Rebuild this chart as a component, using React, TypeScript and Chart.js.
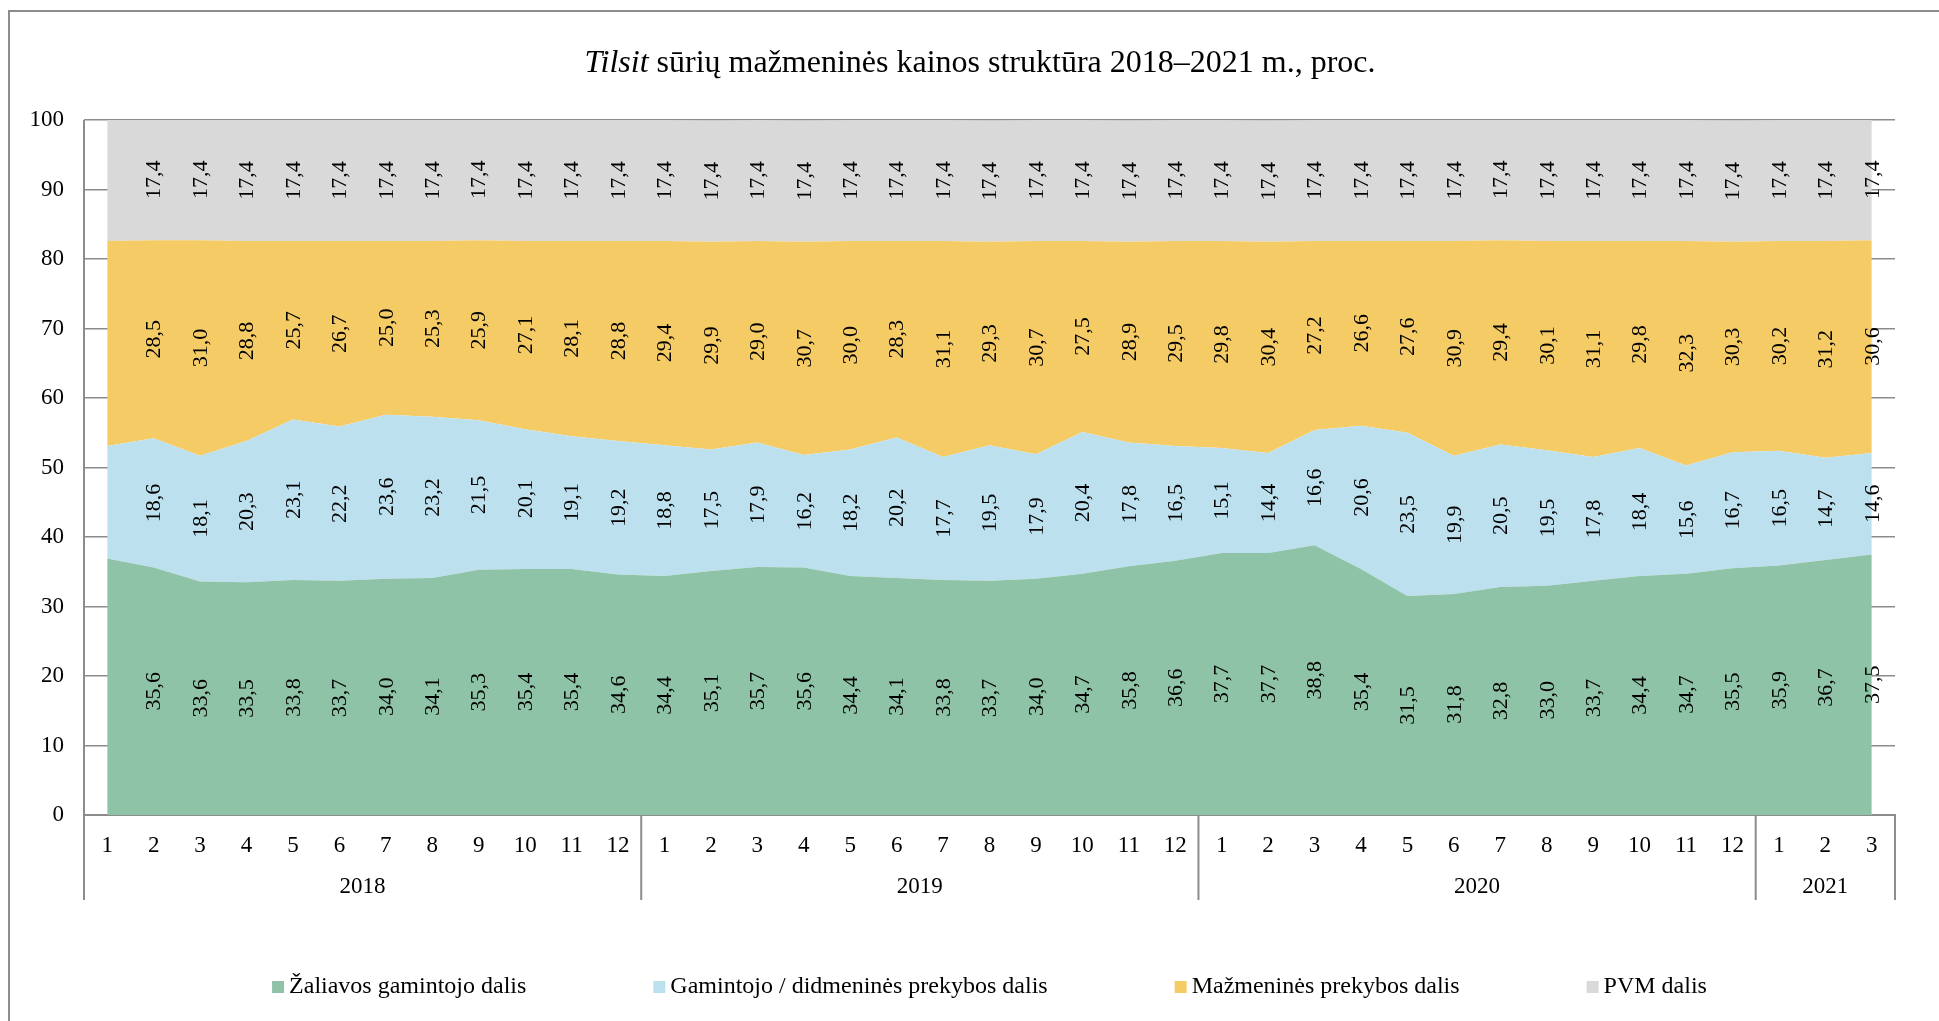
import React, { useEffect, useRef } from 'react';
import { Chart, registerables } from 'chart.js';

Chart.register(...registerables);

// ---------- data ----------
const monthLabels = [
  '1', '2', '3', '4', '5', '6', '7', '8', '9', '10', '11', '12',
  '1', '2', '3', '4', '5', '6', '7', '8', '9', '10', '11', '12',
  '1', '2', '3', '4', '5', '6', '7', '8', '9', '10', '11', '12',
  '1', '2', '3',
];
const yearLabels = ['2018', '2019', '2020', '2021'];
const monthsPerYear = [12, 12, 12, 3];

const rawMaterialShare = [
  36.9, 35.6, 33.6, 33.5, 33.8, 33.7, 34.0, 34.1, 35.3, 35.4, 35.4, 34.6,
  34.4, 35.1, 35.7, 35.6, 34.4, 34.1, 33.8, 33.7, 34.0, 34.7, 35.8, 36.6,
  37.7, 37.7, 38.8, 35.4, 31.5, 31.8, 32.8, 33.0, 33.7, 34.4, 34.7, 35.5,
  35.9, 36.7, 37.5,
];
const wholesaleShare = [
  16.2, 18.6, 18.1, 20.3, 23.1, 22.2, 23.6, 23.2, 21.5, 20.1, 19.1, 19.2,
  18.8, 17.5, 17.9, 16.2, 18.2, 20.2, 17.7, 19.5, 17.9, 20.4, 17.8, 16.5,
  15.1, 14.4, 16.6, 20.6, 23.5, 19.9, 20.5, 19.5, 17.8, 18.4, 15.6, 16.7,
  16.5, 14.7, 14.6,
];
const retailShare = [
  29.5, 28.5, 31.0, 28.8, 25.7, 26.7, 25.0, 25.3, 25.9, 27.1, 28.1, 28.8,
  29.4, 29.9, 29.0, 30.7, 30.0, 28.3, 31.1, 29.3, 30.7, 27.5, 28.9, 29.5,
  29.8, 30.4, 27.2, 26.6, 27.6, 30.9, 29.4, 30.1, 31.1, 29.8, 32.3, 30.3,
  30.2, 31.2, 30.6,
];
const vatShare = [
  17.4, 17.4, 17.4, 17.4, 17.4, 17.4, 17.4, 17.4, 17.4, 17.4, 17.4, 17.4,
  17.4, 17.4, 17.4, 17.4, 17.4, 17.4, 17.4, 17.4, 17.4, 17.4, 17.4, 17.4,
  17.4, 17.4, 17.4, 17.4, 17.4, 17.4, 17.4, 17.4, 17.4, 17.4, 17.4, 17.4,
  17.4, 17.4, 17.4,
];
const seriesNames = [
  'Žaliavos gamintojo dalis',
  'Gamintojo / didmeninės prekybos dalis',
  'Mažmeninės prekybos dalis',
  'PVM dalis',
];
const titleItalic = 'Tilsit';
const titleRest = ' sūrių mažmeninės kainos struktūra 2018–2021 m., proc.';
// the first month (2018-1) carries no value label in the original
const firstLabelIndex = 1;

// ---------- styles ----------
const W = 1939;
const H = 1021;
const FONT = "'Liberation Serif', 'Times New Roman', serif";
const colors = ['#8fc3a8', '#bde0ee', '#f5cb66', '#d9d9d9'];
const lineGray = '#8c8c8c';

const fmt = (v: number) => v.toFixed(1).replace('.', ',');

const decorPlugin = {
  id: 'decor',
  beforeDraw(chart: any) {
    const ctx = chart.ctx;
    ctx.save();
    ctx.strokeStyle = lineGray;
    ctx.lineWidth = 2;
    ctx.beginPath();
    ctx.moveTo(9, H + 5);
    ctx.lineTo(9, 11);
    ctx.lineTo(W + 5, 11);
    ctx.stroke();
    ctx.restore();
  },
  afterDatasetsDraw(chart: any) {
    const ctx = chart.ctx;
    const yScale = chart.scales.y;
    const ds = chart.data.datasets;
    ctx.save();
    ctx.fillStyle = '#000';
    ctx.font = `22px ${FONT}`;
    ctx.textAlign = 'center';
    ctx.textBaseline = 'middle';
    ds.forEach((d: any, di: number) => {
      const meta = chart.getDatasetMeta(di);
      d.data.forEach((v: number, j: number) => {
        if (j < firstLabelIndex) return;
        let base = 0;
        for (let k = 0; k < di; k++) base += ds[k].data[j];
        const y = yScale.getPixelForValue(base + v / 2);
        const x = meta.data[j].x;
        ctx.save();
        ctx.translate(x, y);
        ctx.rotate(-Math.PI / 2);
        ctx.fillText(fmt(v), 0, 1);
        ctx.restore();
      });
    });
    ctx.restore();
  },
  afterDraw(chart: any) {
    const ctx = chart.ctx;
    const xScale = chart.scales.x;
    const area = chart.chartArea;
    ctx.save();
    // group separators and year labels
    const half = (xScale.getPixelForValue(1) - xScale.getPixelForValue(0)) / 2;
    let start = 0;
    const bottom = area.bottom;
    const sepEnd = bottom + 85;
    ctx.strokeStyle = lineGray;
    ctx.lineWidth = 2;
    ctx.beginPath();
    ctx.moveTo(area.left, area.top);
    ctx.lineTo(area.left, sepEnd);
    ctx.stroke();
    ctx.fillStyle = '#000';
    ctx.font = `23px ${FONT}`;
    ctx.textAlign = 'center';
    ctx.textBaseline = 'middle';
    yearLabels.forEach((yl, i) => {
      const end = start + monthsPerYear[i];
      const x0 = xScale.getPixelForValue(start) - half;
      const x1 = xScale.getPixelForValue(end - 1) + half;
      ctx.beginPath();
      ctx.moveTo(x1, bottom);
      ctx.lineTo(x1, sepEnd);
      ctx.stroke();
      ctx.fillText(yl, (x0 + x1) / 2, bottom + 72);
      start = end;
    });

    // title
    const tSize = 32;
    ctx.textAlign = 'left';
    ctx.font = `italic ${tSize}px ${FONT}`;
    const wi = ctx.measureText(titleItalic).width;
    ctx.font = `${tSize}px ${FONT}`;
    const wr = ctx.measureText(titleRest).width;
    const tx = 980 - (wi + wr) / 2;
    ctx.font = `italic ${tSize}px ${FONT}`;
    ctx.fillText(titleItalic, tx, 64);
    ctx.font = `${tSize}px ${FONT}`;
    ctx.fillText(titleRest, tx + wi, 64);

    // legend
    ctx.font = `24px ${FONT}`;
    const box = 12;
    const boxGap = 5;
    const itemGap = 127;
    const widths = seriesNames.map((n) => ctx.measureText(n).width);
    const total = widths.reduce((a, w) => a + box + boxGap + w, 0) + itemGap * (seriesNames.length - 1);
    let lx = (area.left + area.right) / 2 - total / 2;
    const ly = 987;
    seriesNames.forEach((n, i) => {
      ctx.fillStyle = colors[i];
      ctx.fillRect(lx, ly - box / 2, box, box);
      ctx.fillStyle = '#000';
      ctx.fillText(n, lx + box + boxGap, ly);
      lx += box + boxGap + widths[i] + itemGap;
    });
    ctx.restore();
  },
};

export default function App() {
  const canvasRef = useRef<HTMLCanvasElement | null>(null);

  useEffect(() => {
    const canvas = canvasRef.current;
    if (!canvas) return;
    const seriesData = [rawMaterialShare, wholesaleShare, retailShare, vatShare];
    const chart = new Chart(canvas, {
      type: 'line',
      data: {
        labels: monthLabels,
        datasets: seriesData.map((d, i) => ({
          label: seriesNames[i],
          data: d,
          backgroundColor: colors[i],
          borderColor: 'rgba(0,0,0,0)',
          borderWidth: 0,
          pointRadius: 0,
          pointHoverRadius: 0,
          tension: 0,
          fill: i === 0 ? 'origin' : '-1',
        })),
      },
      options: {
        responsive: false,
        animation: false,
        devicePixelRatio: 1,
        layout: { padding: { top: 120, right: 44, bottom: 0, left: 0 } },
        plugins: {
          legend: { display: false },
          title: { display: false },
          tooltip: { enabled: false },
        },
        events: [],
        scales: {
          x: {
            offset: true,
            grid: { display: false, drawTicks: false },
            border: { display: true, color: lineGray, width: 2 },
            ticks: {
              autoSkip: false,
              maxRotation: 0,
              minRotation: 0,
              padding: 17,
              color: '#000',
              font: { family: FONT, size: 23 },
            },
            afterFit: (scale: any) => {
              scale.height = 206;
            },
          },
          y: {
            stacked: true,
            min: 0,
            max: 100,
            grid: { color: lineGray, lineWidth: 1.5, drawTicks: false },
            border: { display: false },
            ticks: {
              stepSize: 10,
              padding: 20,
              color: '#000',
              font: { family: FONT, size: 23 },
            },
            afterFit: (scale: any) => {
              scale.width = 84;
            },
          },
        },
      },
      plugins: [decorPlugin],
    });
    return () => chart.destroy();
  }, []);

  return (
    <div style={{ position: 'fixed', left: 0, top: 0, width: W, height: H, background: '#fff' }}>
      <canvas ref={canvasRef} width={W} height={H} style={{ display: 'block' }} />
    </div>
  );
}
